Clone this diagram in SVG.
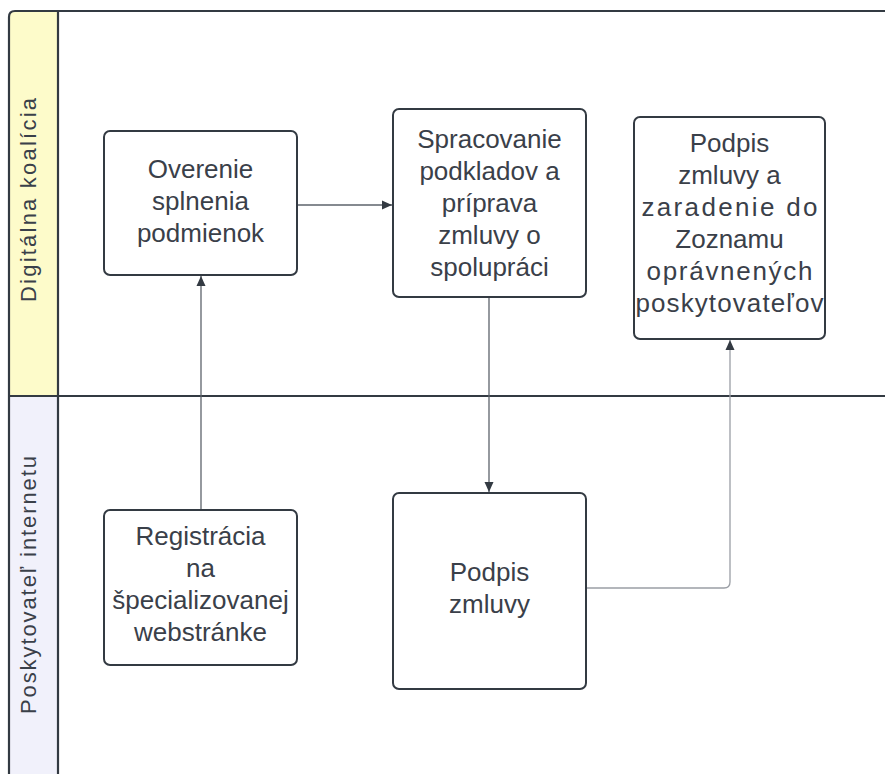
<svg xmlns="http://www.w3.org/2000/svg" width="885" height="774" viewBox="0 0 885 774">
<defs>
<style>
.frame{fill:none;stroke:#333a42;stroke-width:2.2}
.node rect{fill:#ffffff;stroke:#333a42;stroke-width:2}
.node text,.lane text{font-family:"Liberation Sans",Arial,sans-serif;fill:#3a4049;text-anchor:middle}
.node text{font-size:26px}
.lane text{font-size:22px}
.conn{fill:none;stroke:#5d636b;stroke-width:1.3}
.conn.light{stroke:#9a9ea5}
</style>
<marker id="arr" viewBox="0 0 10 10" refX="10" refY="5" markerWidth="10" markerHeight="10" markerUnits="userSpaceOnUse" orient="auto">
<path d="M0,0.5 L10,5 L0,9.5 Z" fill="#333a42"/>
</marker>
</defs>
<rect width="885" height="774" fill="#ffffff"/>
<g id="lanes" class="lane">
<path d="M9,396 V17 Q9,11 15,11 H58 V396 Z" fill="#fdfbca"/>
<rect x="9" y="396" width="49" height="380" fill="#f1f1fb"/>
<path class="frame" d="M9,780 V17 Q9,11 15,11 H890"/>
<path class="frame" d="M58,11 V780"/>
<path class="frame" d="M9,396 H890"/>
<text transform="translate(36,200) rotate(-90)" textLength="204" lengthAdjust="spacing">Digitálna koalícia</text>
<text transform="translate(36,585) rotate(-90)" textLength="258" lengthAdjust="spacing">Poskytovateľ internetu</text>
</g>
<g id="connectors">
<path class="conn" d="M201,509 V276" marker-end="url(#arr)"/>
<path class="conn" d="M297,205 H392" marker-end="url(#arr)"/>
<path class="conn" d="M489,297 V492" marker-end="url(#arr)"/>
<path class="conn light" d="M586,588 H724 Q730,588 730,582 V340" marker-end="url(#arr)"/>
</g>
<g id="n1" class="node">
<rect x="104" y="131" width="193" height="144" rx="6"/>
<text><tspan x="200.5" y="178">Overenie</tspan><tspan x="200.5" y="210">splnenia</tspan><tspan x="200.5" y="242">podmienok</tspan></text>
</g>
<g id="n2" class="node">
<rect x="393" y="109" width="193" height="188" rx="6"/>
<text><tspan x="489.5" y="148">Spracovanie</tspan><tspan x="489.5" y="180">podkladov a</tspan><tspan x="489.5" y="212">príprava</tspan><tspan x="489.5" y="244">zmluvy o</tspan><tspan x="489.5" y="276">spolupráci</tspan></text>
</g>
<g id="n3" class="node">
<rect x="634" y="117" width="191" height="222" rx="6"/>
<text x="729.5" y="152">Podpis</text>
<text x="729.5" y="184">zmluvy a</text>
<text x="729.5" y="216" textLength="176" lengthAdjust="spacing">zaradenie do</text>
<text x="729.5" y="248">Zoznamu</text>
<text x="729.5" y="280" textLength="166" lengthAdjust="spacing">oprávnených</text>
<text x="729.5" y="312" textLength="188" lengthAdjust="spacing">poskytovateľov</text>
</g>
<g id="n4" class="node">
<rect x="104" y="510" width="193" height="155" rx="6"/>
<text><tspan x="200.5" y="545">Registrácia</tspan><tspan x="200.5" y="577">na</tspan><tspan x="200.5" y="609">špecializovanej</tspan><tspan x="200.5" y="641">webstránke</tspan></text>
</g>
<g id="n5" class="node">
<rect x="393" y="493" width="193" height="196" rx="6"/>
<text><tspan x="489.5" y="581">Podpis</tspan><tspan x="489.5" y="613">zmluvy</tspan></text>
</g>
</svg>
